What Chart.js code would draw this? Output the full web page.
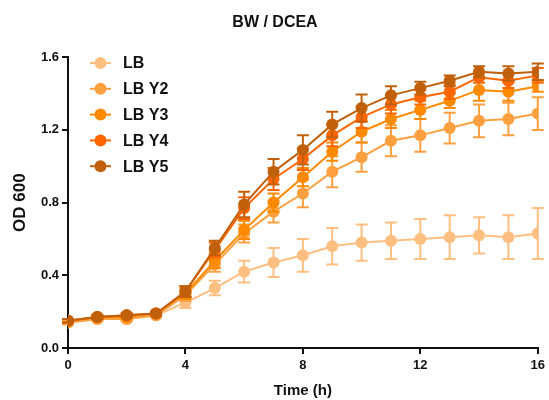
<!DOCTYPE html>
<html>
<head>
<meta charset="utf-8">
<script src="https://cdn.jsdelivr.net/npm/chart.js@4"></script>
<style>
  html, body { margin: 0; padding: 0; background: #fff; }
  #wrap { width: 549px; height: 400px; }
</style>
</head>
<body>
<div id="wrap"><canvas id="growthChart"></canvas></div>
<script>
// Time points (h)
const times = [0, 1, 2, 3, 4, 5, 6, 7, 8, 9, 10, 11, 12, 13, 14, 15, 16];

// OD 600 means per strain
const lbMean = [0.14, 0.16, 0.16, 0.18, 0.25, 0.33, 0.42, 0.47, 0.51, 0.56, 0.58, 0.59, 0.60, 0.61, 0.62, 0.61, 0.63];
const y2Mean = [0.14, 0.16, 0.16, 0.18, 0.29, 0.46, 0.63, 0.75, 0.85, 0.97, 1.05, 1.14, 1.17, 1.21, 1.25, 1.26, 1.29];
const y3Mean = [0.15, 0.17, 0.17, 0.19, 0.30, 0.48, 0.65, 0.80, 0.94, 1.08, 1.19, 1.26, 1.31, 1.36, 1.42, 1.41, 1.44];
const y4Mean = [0.15, 0.17, 0.18, 0.19, 0.31, 0.54, 0.77, 0.93, 1.04, 1.17, 1.27, 1.34, 1.38, 1.41, 1.49, 1.47, 1.50];
const y5Mean = [0.15, 0.17, 0.18, 0.19, 0.31, 0.55, 0.79, 0.97, 1.09, 1.23, 1.32, 1.39, 1.43, 1.47, 1.52, 1.51, 1.52];

// Error bars (SD)
const lbErr = [0.01, 0.01, 0.01, 0.01, 0.03, 0.04, 0.06, 0.08, 0.09, 0.10, 0.10, 0.10, 0.11, 0.12, 0.10, 0.12, 0.14];
const y2Err = [0.01, 0.01, 0.01, 0.01, 0.03, 0.04, 0.05, 0.06, 0.075, 0.085, 0.08, 0.085, 0.09, 0.085, 0.09, 0.09, 0.09];
const y3Err = [0.01, 0.01, 0.01, 0.01, 0.03, 0.04, 0.05, 0.05, 0.05, 0.05, 0.06, 0.05, 0.05, 0.04, 0.06, 0.05, 0.03];
const y4Err = [0.01, 0.01, 0.01, 0.01, 0.03, 0.04, 0.06, 0.06, 0.06, 0.06, 0.06, 0.05, 0.04, 0.04, 0.03, 0.04, 0.04];
const y5Err = [0.01, 0.01, 0.01, 0.01, 0.03, 0.04, 0.07, 0.07, 0.08, 0.07, 0.075, 0.05, 0.035, 0.03, 0.03, 0.04, 0.045];

const seriesLabels = ['LB', 'LB Y2', 'LB Y3', 'LB Y4', 'LB Y5'];
const seriesMeans = [lbMean, y2Mean, y3Mean, y4Mean, y5Mean];
const seriesErrs = [lbErr, y2Err, y3Err, y4Err, y5Err];
const seriesColors = ['#ffbf80', '#ffa040', '#ff8a00', '#ff6600', '#c0600a'];

const xTicks = [0, 4, 8, 12, 16];
const yTicks = [0, 0.4, 0.8, 1.2, 1.6];

const FONT = "'Liberation Sans', Arial, sans-serif";

const datasets = seriesLabels.map((label, i) => ({
  label: label,
  data: times.map((t, j) => ({ x: t, y: seriesMeans[i][j] })),
  errors: seriesErrs[i],
  borderColor: seriesColors[i],
  backgroundColor: seriesColors[i],
  borderWidth: 2,
  pointRadius: 6,
  pointHoverRadius: 6,
  pointBorderWidth: 0,
  tension: 0,
  order: seriesLabels.length - i
}));

// Draw error bars under each dataset's line
const errorBarPlugin = {
  id: 'errorBars',
  beforeDatasetDraw(chart, args) {
    const ds = chart.data.datasets[args.index];
    const xs = chart.scales.x;
    const ys = chart.scales.y;
    const ctx = chart.ctx;
    ctx.save();
    ctx.strokeStyle = ds.borderColor;
    ctx.lineWidth = 2;
    ds.data.forEach((p, j) => {
      const e = ds.errors[j];
      const px = xs.getPixelForValue(p.x);
      const top = ys.getPixelForValue(p.y + e);
      const bot = ys.getPixelForValue(p.y - e);
      ctx.beginPath();
      ctx.moveTo(px, top);
      ctx.lineTo(px, bot);
      ctx.moveTo(px - 6, top);
      ctx.lineTo(px + 6, top);
      ctx.moveTo(px - 6, bot);
      ctx.lineTo(px + 6, bot);
      ctx.stroke();
    });
    ctx.restore();
  }
};

// Legend inside the plot, top-left
const insideLegend = {
  id: 'insideLegend',
  afterDraw(chart) {
    const ctx = chart.ctx;
    ctx.save();
    chart.data.datasets.forEach((ds, i) => {
      const y = 63 + i * 25.8;
      ctx.strokeStyle = ds.borderColor;
      ctx.lineWidth = 2;
      ctx.beginPath();
      ctx.moveTo(90, y);
      ctx.lineTo(111, y);
      ctx.stroke();
      ctx.fillStyle = ds.backgroundColor;
      ctx.beginPath();
      ctx.arc(100.5, y, 6, 0, Math.PI * 2);
      ctx.fill();
      ctx.fillStyle = '#111';
      ctx.font = 'bold 16px ' + FONT;
      ctx.textBaseline = 'middle';
      ctx.textAlign = 'left';
      ctx.fillText(ds.label, 123, y + 1);
    });
    ctx.restore();
  }
};

const ctx = document.getElementById('growthChart').getContext('2d');
const growthChart = new Chart(ctx, {
  type: 'line',
  data: { datasets: datasets },
  plugins: [errorBarPlugin, insideLegend],
  options: {
    responsive: true,
    maintainAspectRatio: false,
    animation: false,
    layout: { padding: { left: 10, right: 9, top: 0, bottom: 0 } },
    plugins: {
      legend: { display: false },
      tooltip: { enabled: false },
      title: {
        display: true,
        text: 'BW / DCEA',
        color: '#111',
        font: { family: FONT, size: 16, weight: 'bold' },
        padding: { top: 13, bottom: 25 }
      }
    },
    scales: {
      x: {
        type: 'linear',
        min: 0,
        max: 16,
        afterBuildTicks(scale) {
          scale.ticks = xTicks.map(v => ({ value: v }));
        },
        afterFit(scale) { scale.height = 52; },
        grid: {
          drawOnChartArea: false,
          color: '#111',
          lineWidth: 2,
          tickLength: 6
        },
        border: { color: '#111', width: 2 },
        ticks: {
          color: '#111',
          font: { family: FONT, size: 13, weight: 'bold' },
          padding: 4,
          maxRotation: 0
        },
        title: {
          display: true,
          text: 'Time (h)',
          color: '#111',
          font: { family: FONT, size: 15, weight: 'bold' },
          padding: { top: 8, bottom: 0 }
        }
      },
      y: {
        min: 0,
        max: 1.6,
        afterBuildTicks(scale) {
          scale.ticks = yTicks.map(v => ({ value: v }));
        },
        afterFit(scale) { scale.width = 58; },
        grid: {
          drawOnChartArea: false,
          color: '#111',
          lineWidth: 2,
          tickLength: 6
        },
        border: { color: '#111', width: 2 },
        ticks: {
          color: '#111',
          font: { family: FONT, size: 13, weight: 'bold' },
          padding: 3,
          callback: v => v.toFixed(1)
        },
        title: {
          display: true,
          text: 'OD 600',
          color: '#111',
          font: { family: FONT, size: 17, weight: 'bold' },
          padding: { top: 0, bottom: 6 }
        }
      }
    }
  }
});
</script>
</body>
</html>
